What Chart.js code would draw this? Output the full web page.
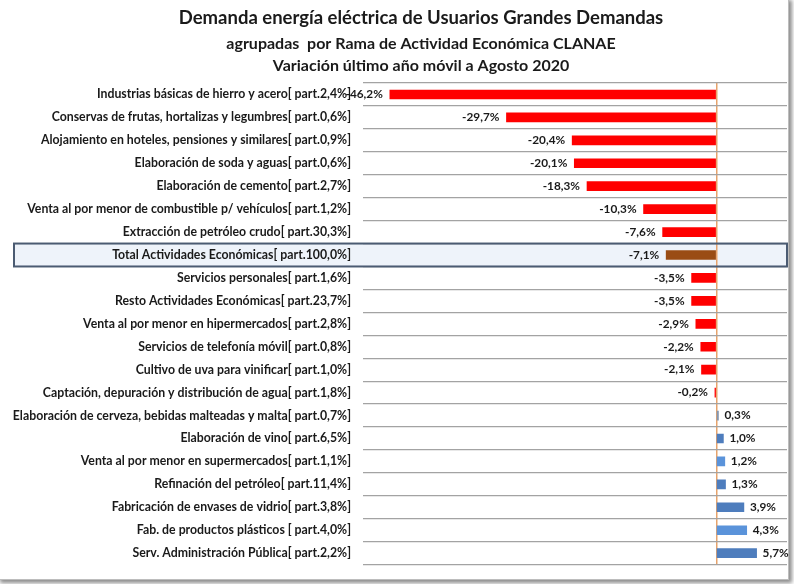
<!DOCTYPE html>
<html><head><meta charset="utf-8">
<script src="https://cdn.jsdelivr.net/npm/chart.js@4.4.1/dist/chart.umd.min.js"></script>
<style>
html,body{margin:0;padding:0;background:#fff;}
#wrap{position:relative;width:794px;height:584px;overflow:hidden;}
#frame{position:absolute;left:-3px;top:-3px;width:791px;height:582px;border-right:1px solid #bdbdbd;border-bottom:1px solid #bdbdbd;box-shadow:3px 3px 4px rgba(0,0,0,0.45);background:#fff;}
canvas{position:absolute;left:0;top:0;}
</style></head>
<body><div id="wrap"><div id="frame"></div><canvas id="c" width="794" height="584"></canvas></div>
<script>
const mainTitle = 'Demanda energía eléctrica de Usuarios Grandes Demandas';
const subTitles = ['agrupadas  por Rama de Actividad Económica CLANAE', 'Variación último año móvil a Agosto 2020'];

const categories = [
  'Industrias básicas de hierro y acero[ part.2,4%]',
  'Conservas de frutas, hortalizas y legumbres[ part.0,6%]',
  'Alojamiento en hoteles, pensiones y similares[ part.0,9%]',
  'Elaboración de soda y aguas[ part.0,6%]',
  'Elaboración de cemento[ part.2,7%]',
  'Venta al por menor de combustible p/ vehículos[ part.1,2%]',
  'Extracción de petróleo crudo[ part.30,3%]',
  'Total Actividades Económicas[ part.100,0%]',
  'Servicios personales[ part.1,6%]',
  'Resto Actividades Económicas[ part.23,7%]',
  'Venta al por menor en hipermercados[ part.2,8%]',
  'Servicios de telefonía móvil[ part.0,8%]',
  'Cultivo de uva para vinificar[ part.1,0%]',
  'Captación, depuración y distribución de agua[ part.1,8%]',
  'Elaboración de cerveza, bebidas malteadas y malta[ part.0,7%]',
  'Elaboración de vino[ part.6,5%]',
  'Venta al por menor en supermercados[ part.1,1%]',
  'Refinación del petróleo[ part.11,4%]',
  'Fabricación de envases de vidrio[ part.3,8%]',
  'Fab. de productos plásticos [ part.4,0%]',
  'Serv. Administración Pública[ part.2,2%]'
];

const variation = [-46.2, -29.7, -20.4, -20.1, -18.3, -10.3, -7.6, -7.1, -3.5, -3.5, -2.9, -2.2, -2.1, -0.2, 0.3, 1.0, 1.2, 1.3, 3.9, 4.3, 5.7];

const totalLabel = 'Total Actividades Económicas[ part.100,0%]';

const xMin = -50;
const xMax = 10;

// styles
const FONT = 'Lato, "Open Sans", sans-serif';
const RED = '#ff0000';
const BROWN = '#9a4c14';
const BLUE = '#4e7dbd';
const LIGHTBLUE = '#5a93da';
const GRAYBLUE = '#8597b0';
const lighterIdx = [16, 19];
const totalIdx = categories.indexOf(totalLabel);

function barColor(i) {
  const v = variation[i];
  if (i === totalIdx) return BROWN;
  if (v < 0) return RED;
  if (v < 0.5) return GRAYBLUE;
  return lighterIdx.includes(i) ? LIGHTBLUE : BLUE;
}

function fmt(v) {
  return v.toFixed(1).replace('.', ',') + '%';
}

const titlePlugin = {
  id: 'titleLines',
  afterDraw(chart) {
    const ctx = chart.ctx;
    const cx = 421;
    ctx.save();
    ctx.fillStyle = '#1a1a1a';
    ctx.textAlign = 'center';
    ctx.textBaseline = 'middle';
    ctx.font = 'bold 18.5px ' + FONT;
    ctx.fillText(mainTitle, cx, 18);
    ctx.font = 'bold 16px ' + FONT;
    ctx.fillText(subTitles[0], cx, 44);
    ctx.fillText(subTitles[1], cx, 66);
    ctx.restore();
  }
};

const totalBoxPlugin = {
  id: 'totalBox',
  _rect(chart) {
    const y = chart.scales.y;
    const half = (y.getPixelForValue(1) - y.getPixelForValue(0)) / 2;
    const cy = y.getPixelForValue(totalIdx);
    return { x1: 14, x2: chart.chartArea.right, y1: cy - half, y2: cy + half };
  },
  beforeDraw(chart) {
    const r = this._rect(chart);
    const ctx = chart.ctx;
    ctx.save();
    ctx.fillStyle = '#eef3fa';
    ctx.fillRect(r.x1, r.y1, r.x2 - r.x1, r.y2 - r.y1);
    ctx.restore();
  },
  beforeDatasetsDraw(chart) {
    const r = this._rect(chart);
    const ctx = chart.ctx;
    ctx.save();
    ctx.strokeStyle = '#4b5b72';
    ctx.lineWidth = 2;
    ctx.strokeRect(r.x1, r.y1, r.x2 - r.x1, r.y2 - r.y1);
    ctx.restore();
  }
};

const valueLabelPlugin = {
  id: 'valueLabels',
  afterDatasetsDraw(chart) {
    const ctx = chart.ctx;
    const meta = chart.getDatasetMeta(0);
    ctx.save();
    ctx.font = 'bold 11.8px ' + FONT;
    ctx.fillStyle = '#1a1a1a';
    ctx.textBaseline = 'middle';
    meta.data.forEach((bar, i) => {
      const v = variation[i];
      if (v < 0) {
        ctx.textAlign = 'right';
        ctx.fillText(fmt(v), Math.min(bar.x, bar.base) - 7, bar.y);
      } else {
        ctx.textAlign = 'left';
        ctx.fillText(fmt(v), Math.max(bar.x, bar.base) + 6, bar.y);
      }
    });
    ctx.restore();
  }
};

new Chart(document.getElementById('c'), {
  type: 'bar',
  data: {
    labels: categories,
    datasets: [{
      data: variation,
      backgroundColor: variation.map((v, i) => barColor(i)),
      borderWidth: 0,
      barThickness: 9
    }]
  },
  plugins: [totalBoxPlugin, valueLabelPlugin, titlePlugin],
  options: {
    indexAxis: 'y',
    responsive: false,
    animation: false,
    devicePixelRatio: 1,
    layout: { padding: { left: 0, right: 7, top: 83, bottom: 10 } },
    plugins: {
      legend: { display: false },
      tooltip: { enabled: false },
      title: { display: false },
      subtitle: { display: false }
    },
    scales: {
      x: {
        type: 'linear',
        min: xMin,
        max: xMax,
        ticks: { display: false, stepSize: 10 },
        border: { display: false },
        grid: {
          drawTicks: false,
          lineWidth: 1.5,
          color: (c) => (c.tick && c.tick.value === 0) ? '#e6a36c' : 'rgba(0,0,0,0)'
        }
      },
      y: {
        afterFit(scale) { scale.width = 363; },
        ticks: {
          color: '#1a1a1a',
          padding: 12,
          font: { family: FONT, size: 12.3, weight: 'bold' },
          autoSkip: false
        },
        border: { display: false },
        grid: {
          drawTicks: false,
          color: '#a3a3a3',
          lineWidth: 1.2
        }
      }
    }
  }
});
</script>
</body></html>
